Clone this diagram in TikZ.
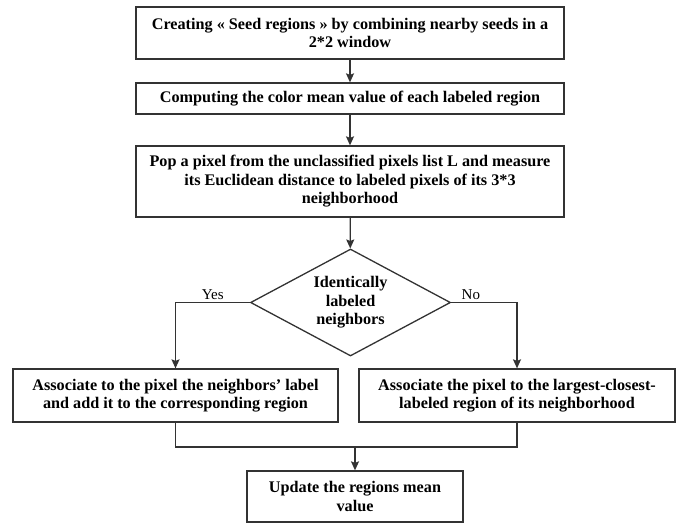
\documentclass[tikz,border=0pt]{standalone}
\usepackage{fontspec}
\setmainfont{Liberation Serif}
\usetikzlibrary{arrows.meta,shapes.geometric}

\tikzset{
  stepbox/.style={draw=black!80, line width=1.3pt, inner sep=0pt, align=center,
    font=\bfseries\fontsize{16.2}{18.5}\selectfont},
  decide/.style={stepbox, diamond, aspect=1.87},
  branch/.style={font=\fontsize{15}{18}\selectfont, inner sep=2pt},
}

\begin{document}
\begin{tikzpicture}[x=1pt, y=-1pt, >={Stealth[length=9pt,width=8pt,inset=1.5pt]}, line width=1.3pt, draw=black!80]
    \useasboundingbox (0,0) rectangle (684,522);
    % main column
    \node[stepbox, minimum width=428pt, minimum height=52pt] (seed) at (350,33)
      {Creating « Seed regions » by combining nearby seeds in a\\2*2 window};
    \node[stepbox, minimum width=428pt, minimum height=31pt] (mean) at (350,98.5)
      {Computing the color mean value of each labeled region};
    \node[stepbox, minimum width=428pt, minimum height=71pt] (pop) at (350,181.5)
      {Pop a pixel from the unclassified pixels list L and measure\\its Euclidean distance to labeled pixels of its 3*3\\neighborhood};
    \node[decide, minimum width=200pt, minimum height=107pt] (same) at (350.5,302.5)
      {Identically\\labeled\\neighbors};
    % the two outcomes
    \node[stepbox, minimum width=325pt, minimum height=53pt] (yesbox) at (175.5,395.5)
      {Associate to the pixel the neighbors’ label\\and add it to the corresponding region};
    \node[stepbox, minimum width=316pt, minimum height=53pt] (nobox) at (517,395.5)
      {Associate the pixel to the largest-closest-\\labeled region of its neighborhood};
    \node[stepbox, minimum width=216pt, minimum height=51pt] (update) at (355,496.5)
      {Update the regions mean\\value};
    \coordinate (join) at (355,447);
    % connectors
    \draw[->] (seed) -- (mean);
    \draw[->] (mean) -- (pop);
    \draw[->] (pop) -- (same);
    \draw[->] (same.west) -| node[branch, pos=0.25, above] {Yes} (yesbox.north);
    \draw[->] (same.east) -| node[branch, pos=0.15, above] {No} (nobox.north);
    \draw (yesbox.south) |- (join) -| (nobox.south);
    \draw[->] (join) -- (update);
  \end{tikzpicture}
\end{document}
